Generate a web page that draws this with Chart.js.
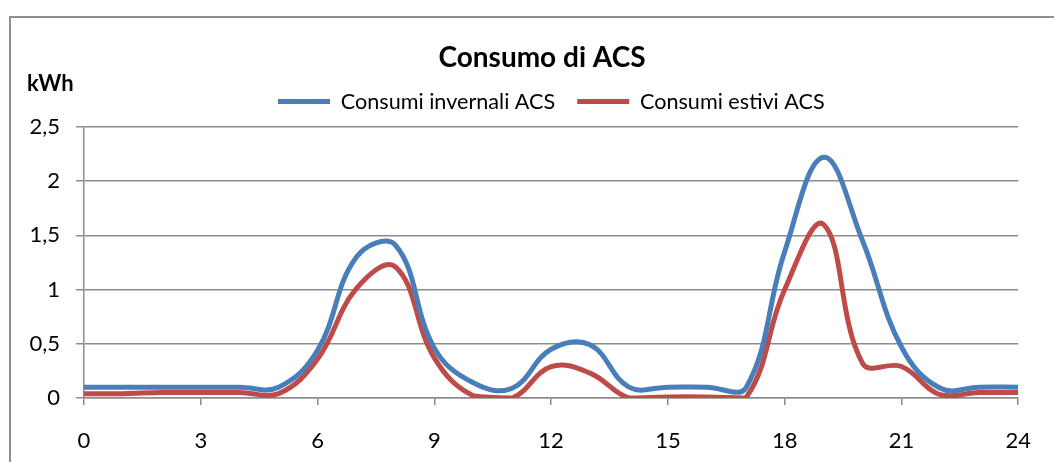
<!DOCTYPE html>
<html lang="it">
<head>
<meta charset="utf-8">
<title>Consumo di ACS</title>
<script src="https://cdn.jsdelivr.net/npm/chart.js@4/dist/chart.umd.min.js"></script>
<style>
  html, body { margin: 0; padding: 0; background: #ffffff; }
  #wrap { position: relative; width: 1054px; height: 462px; }
</style>
</head>
<body>
<div id="wrap"><canvas id="chart"></canvas></div>
<script>
// Ore del giorno
const hours = [0, 1, 2, 3, 4, 5, 6, 7, 8, 9, 10, 11, 12, 13, 14, 15, 16, 17, 18, 19, 20, 21, 22, 23, 24];
// Consumi invernali ACS (kWh)
const winter = [0.10, 0.10, 0.10, 0.10, 0.10, 0.10, 0.44, 1.30, 1.41, 0.46, 0.14, 0.09, 0.45, 0.49, 0.10, 0.10, 0.10, 0.09, 1.35, 2.22, 1.45, 0.47, 0.09, 0.10, 0.10];
// Consumi estivi ACS (kWh)
const summer = [0.04, 0.04, 0.05, 0.05, 0.05, 0.04, 0.36, 1.01, 1.21, 0.37, 0.02, 0.00, 0.29, 0.23, 0.00, 0.01, 0.01, 0.00, 1.00, 1.60, 0.32, 0.29, 0.03, 0.05, 0.05];
// Tacche degli assi
const xTicks = [0, 3, 6, 9, 12, 15, 18, 21, 24];
const yTicks = [0, 0.5, 1, 1.5, 2, 2.5];

const FONT = 'Lato, "Open Sans", "DejaVu Sans", sans-serif';
const GRID = '#8c8c8c';

const toPoints = (vals) => hours.map((h, i) => ({ x: h, y: vals[i] }));

// Spazio extra sotto la legenda e centratura di titolo e legenda nella cornice
const headerLayout = {
  id: 'headerLayout',
  beforeInit(chart) {
    const legend = chart.legend;
    if (!legend) return;
    const fit = legend.fit;
    legend.fit = function () {
      fit.call(this);
      this.height += 4.5;
    };
  },
  afterLayout(chart) {
    const title = chart.titleBlock;
    if (title) {
      const dx = 542 - (title.left + title.right) / 2;
      title.left += dx;
      title.right += dx;
    }
    const legend = chart.legend;
    if (legend && legend.lineWidths) {
      const pad = legend.options.labels.padding;
      const start = (legend.left + pad + legend.right - legend.lineWidths[0]) / 2;
      const dx = 278 - start;
      legend.left += dx;
      legend.right += dx;
    }
  }
};

// Cornice del grafico e unità di misura
const frame = {
  id: 'frame',
  beforeDraw(chart) {
    const ctx = chart.ctx;
    ctx.save();
    ctx.fillStyle = '#ffffff';
    ctx.fillRect(0, 0, chart.width, chart.height);
    ctx.strokeStyle = '#8f8f8f';
    ctx.lineWidth = 2;
    ctx.beginPath();
    ctx.moveTo(10, chart.height + 2);
    ctx.lineTo(10, 17);
    ctx.lineTo(chart.width + 2, 17);
    ctx.stroke();
    ctx.restore();
  },
  afterDraw(chart) {
    const ctx = chart.ctx;
    ctx.save();
    ctx.fillStyle = '#000000';
    ctx.font = 'bold 22px ' + FONT;
    ctx.textAlign = 'left';
    ctx.textBaseline = 'middle';
    ctx.fillText('kWh', 27, 84);
    ctx.restore();
  }
};

new Chart(document.getElementById('chart'), {
  type: 'line',
  data: {
    datasets: [
      {
        label: 'Consumi invernali ACS',
        data: toPoints(winter),
        borderColor: '#4a7ebb',
        backgroundColor: '#4a7ebb',
        borderWidth: 5,
        pointRadius: 0,
        tension: 0.4,
        fill: false
      },
      {
        label: 'Consumi estivi ACS',
        data: toPoints(summer),
        borderColor: '#be4b48',
        backgroundColor: '#be4b48',
        borderWidth: 5,
        pointRadius: 0,
        tension: 0.4,
        fill: false
      }
    ]
  },
  options: {
    responsive: true,
    maintainAspectRatio: false,
    animation: false,
    events: [],
    layout: { padding: { left: 0, right: 35, top: 0, bottom: 0 } },
    plugins: {
      title: {
        display: true,
        text: 'Consumo di ACS',
        color: '#000000',
        font: { family: FONT, size: 28, weight: 'bold', lineHeight: 0.6 },
        padding: { top: 50, bottom: 2 }
      },
      legend: {
        display: true,
        position: 'top',
        labels: {
          color: '#000000',
          font: { family: FONT, size: 21.6 },
          boxWidth: 52,
          boxHeight: 5,
          padding: 22,
          generateLabels: (chart) =>
            Chart.defaults.plugins.legend.labels.generateLabels(chart).map(l => ({ ...l, lineWidth: 0 }))
        }
      },
      tooltip: { enabled: false }
    },
    scales: {
      x: {
        type: 'linear',
        min: 0,
        max: 24,
        afterFit: (s) => { s.height = 64; },
        afterBuildTicks: (s) => { s.ticks = xTicks.map(v => ({ value: v })); },
        ticks: {
          color: '#000000',
          font: { family: FONT, size: 22 },
          padding: 23,
          maxRotation: 0,
          autoSkip: false
        },
        grid: {
          drawOnChartArea: false,
          drawTicks: true,
          tickLength: 7,
          color: GRID,
          lineWidth: 1.5
        },
        border: { display: true, color: GRID, width: 1.5 }
      },
      y: {
        min: 0,
        max: 2.5,
        afterFit: (s) => { s.width = 84; },
        afterBuildTicks: (s) => { s.ticks = yTicks.map(v => ({ value: v })); },
        ticks: {
          color: '#000000',
          font: { family: FONT, size: 22 },
          padding: 16,
          callback: (v) => String(v).replace('.', ',')
        },
        grid: {
          drawTicks: true,
          tickLength: 8,
          color: GRID,
          lineWidth: 1.5
        },
        border: { display: true, color: GRID, width: 1.5 }
      }
    }
  },
  plugins: [headerLayout, frame]
});
</script>
</body>
</html>
